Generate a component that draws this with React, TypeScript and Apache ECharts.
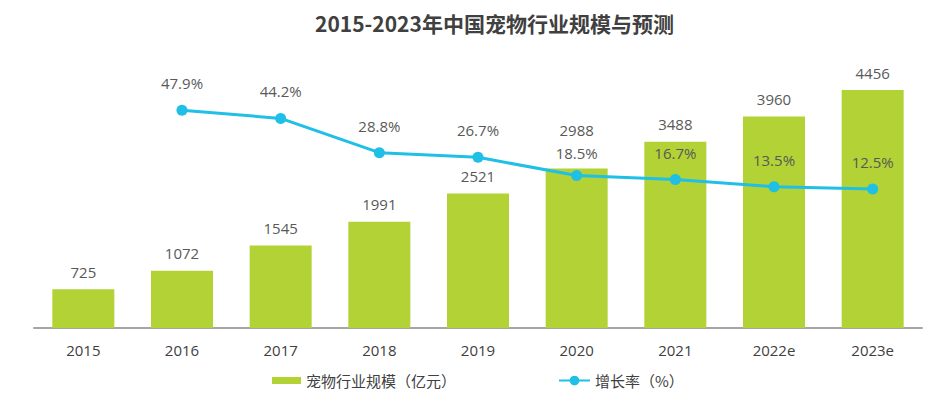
import React, { useEffect, useRef } from "react";
import * as echarts from "echarts";

const categories = ["2015", "2016", "2017", "2018", "2019", "2020", "2021", "2022e", "2023e"];
const marketSize = [725, 1072, 1545, 1991, 2521, 2988, 3488, 3960, 4456];
const growthRate = [null, 47.9, 44.2, 28.8, 26.7, 18.5, 16.7, 13.5, 12.5];

const FONT = "'Open Sans', 'Noto Sans CJK SC', sans-serif";
const CJK = "'Noto Sans CJK SC', sans-serif";

export default function App() {
  const ref = useRef<HTMLDivElement>(null);
  useEffect(() => {
    if (!ref.current) return;
    const chart = echarts.init(ref.current, undefined, { renderer: "svg" });
    const barData = marketSize.map((v, i) =>
      categories[i] === "2020" ? { value: v, label: { distance: 31 } } : v
    );
    const lineData = growthRate.map((v, i) =>
      categories[i] === "2020" ? { value: v, label: { distance: 10 } } : v
    );
    chart.setOption({
      animation: false,
      textStyle: { fontFamily: FONT },
      title: {
        text: "2015-2023年中国宠物行业规模与预测",
        left: 310,
        top: 7,
        textStyle: { fontSize: 21, fontWeight: "bold", color: "#404040", fontFamily: CJK },
      },
      legend: [
        {
          bottom: 5,
          left: 267,
          textStyle: { fontSize: 15, color: "#404040", fontFamily: CJK },
          data: [{ name: "宠物行业规模（亿元）", icon: "rect", itemStyle: { color: "#b2d235" } }],
          itemWidth: 29,
          itemHeight: 7,
        },
        {
          bottom: 5,
          left: 553,
          textStyle: { fontSize: 15, color: "#404040", fontFamily: CJK },
          data: [{ name: "增长率（%）" }],
          itemWidth: 31,
          itemHeight: 12,
        },
      ],
      grid: { left: 34, right: 13, top: 61, bottom: 70 },
      xAxis: {
        type: "category",
        data: categories,
        axisTick: { show: false },
        axisLine: { lineStyle: { color: "#a6a6a6", width: 2 } },
        axisLabel: { fontSize: 15, color: "#404040", margin: 14, fontFamily: FONT },
      },
      yAxis: [
        { type: "value", min: 0, max: 5000, show: false, splitLine: { show: false } },
        { type: "value", min: -50, max: 70, show: false, splitLine: { show: false } },
      ],
      series: [
        {
          name: "宠物行业规模（亿元）",
          type: "bar",
          data: barData,
          barWidth: 62,
          itemStyle: { color: "#b2d235" },
          label: {
            show: true,
            position: "top",
            distance: 10,
            fontSize: 15,
            color: "#595959",
            fontFamily: FONT,
          },
        },
        {
          name: "增长率（%）",
          type: "line",
          yAxisIndex: 1,
          data: lineData,
          symbol: "circle",
          symbolSize: 11,
          lineStyle: { color: "#1fbfe6", width: 3 },
          itemStyle: { color: "#1fbfe6" },
          label: {
            show: true,
            position: "top",
            distance: 14,
            fontSize: 15,
            color: "#595959",
            fontFamily: FONT,
            formatter: (p: any) => p.value.toFixed(1) + "%",
          },
        },
      ],
    });
    return () => chart.dispose();
  }, []);
  return (
    <div
      ref={ref}
      style={{ position: "fixed", left: 0, top: 0, width: 935, height: 398, background: "#fff" }}
    />
  );
}
